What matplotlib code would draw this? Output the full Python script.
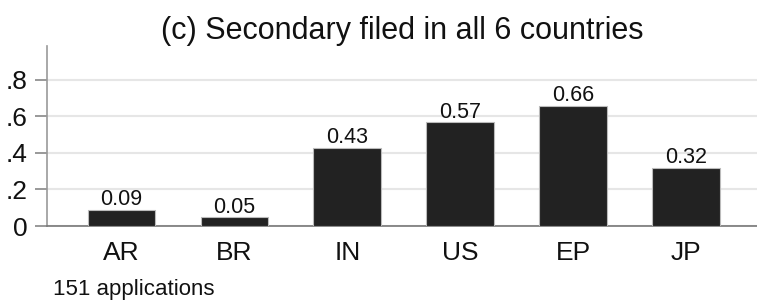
import matplotlib
matplotlib.use("Agg")
import matplotlib.pyplot as plt

countries = ["AR", "BR", "IN", "US", "EP", "JP"]
shares = [0.09, 0.05, 0.43, 0.57, 0.66, 0.32]
share_labels = ["0.09", "0.05", "0.43", "0.57", "0.66", "0.32"]
y_ticks = [0, 0.2, 0.4, 0.6, 0.8]
y_tick_labels = ["0", ".2", ".4", ".6", ".8"]
title = "(c) Secondary filed in all 6 countries"
note = "151 applications"

plt.rcParams["font.family"] = ["Liberation Sans", "DejaVu Sans"]

fig = plt.figure(figsize=(7.57, 3.02), dpi=100)
ax = fig.add_axes([47 / 757, 76 / 302, 710 / 757, 180 / 302])

x = list(range(len(countries)))
ax.bar(x, shares, width=0.6, color="#222222", edgecolor="#bbbbbb", linewidth=0.8, zorder=3)

# value labels just above each bar
for xi, v, lab in zip(x, shares, share_labels):
    ax.annotate(lab, (xi, v), xytext=(0, 3), textcoords="offset points",
                ha="center", va="baseline", fontsize=15.5, color="#111111")

ax.set_xlim(-0.66, 5.63)
ax.set_ylim(0, 0.986)
ax.set_yticks(y_ticks)
ax.set_yticklabels(y_tick_labels)
ax.set_xticks(x)
ax.set_xticklabels(countries)

ax.yaxis.grid(True, color="#e6e6e6", linewidth=1.5, zorder=0)
ax.set_axisbelow(True)

for side in ["top", "right"]:
    ax.spines[side].set_visible(False)
ax.spines["left"].set_color("#999999")
ax.spines["left"].set_linewidth(1.2)
ax.spines["bottom"].set_color("#777777")
ax.spines["bottom"].set_linewidth(1.2)

ax.tick_params(axis="y", length=9, width=1.2, color="#888888", pad=5, labelsize=19, labelcolor="#111111")
ax.tick_params(axis="x", length=0, pad=11, labelsize=19, labelcolor="#111111")

ax.set_title(title, fontsize=22, pad=4, color="#111111")
fig.text(53 / 757, 1 - 290 / 302, note, fontsize=16, va="center", ha="left", color="#111111")

fig.savefig("out.png", dpi=100)
